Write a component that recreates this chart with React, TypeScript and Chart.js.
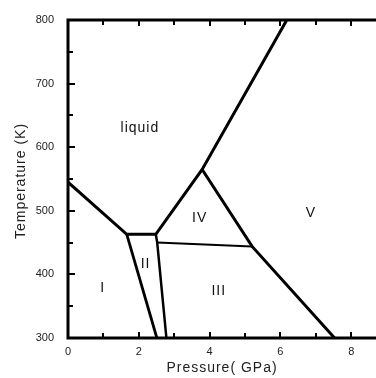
import React, { useEffect, useRef } from "react";
import { Chart, registerables } from "chart.js";

Chart.register(...registerables);

// Phase boundaries (pressure GPa, temperature K)
const liquidBoundary = [
  { x: 0, y: 545 },
  { x: 1.66, y: 463 },
  { x: 2.48, y: 463 },
  { x: 3.79, y: 565 },
  { x: 6.18, y: 800 },
];
const boundaryI_II = [
  { x: 1.66, y: 463 },
  { x: 2.51, y: 300 },
];
const boundaryII_III = [
  { x: 2.48, y: 463 },
  { x: 2.52, y: 450 },
  { x: 2.78, y: 300 },
];
const boundaryIII_IV = [
  { x: 2.52, y: 450 },
  { x: 5.2, y: 444 },
];
const boundaryV = [
  { x: 3.79, y: 565 },
  { x: 5.2, y: 444 },
  { x: 7.53, y: 300 },
];

const regionNames = ["liquid", "IV", "V", "II", "I", "III"];
const regionX = [2.03, 3.72, 6.86, 2.19, 0.98, 4.26];
const regionY = [630, 489, 497, 416, 379, 374];

const xTicks = [0, 2, 4, 6, 8];
const xMinorTicks = [1, 3, 5, 7];
const yTicks = [300, 400, 500, 600, 700, 800];
const yMinorTicks = [350, 450, 550, 650, 750];

const xTitle = "Pressure( GPa)";
const yTitle = "Temperature (K)";

const FONT = "'Liberation Sans', Arial, sans-serif";

const axesPlugin = {
  id: "phaseAxes",
  afterDatasetsDraw(chart: any) {
    const { ctx, chartArea, scales } = chart;
    const { left, right, top, bottom } = chartArea;
    ctx.save();
    ctx.strokeStyle = "#000";
    ctx.lineCap = "butt";
    // ticks
    ctx.lineWidth = 2;
    const xs = scales.x;
    const ys = scales.y;
    const drawX = (v: number, len: number) => {
      const px = Math.round(xs.getPixelForValue(v));
      ctx.beginPath();
      ctx.moveTo(px, bottom);
      ctx.lineTo(px, bottom - len);
      ctx.moveTo(px, top);
      ctx.lineTo(px, top + len);
      ctx.stroke();
    };
    xTicks.forEach((v) => drawX(v, 6));
    xMinorTicks.forEach((v) => drawX(v, 5));
    const drawY = (v: number, len: number) => {
      const py = Math.round(ys.getPixelForValue(v));
      ctx.beginPath();
      ctx.moveTo(left, py);
      ctx.lineTo(left + len, py);
      ctx.stroke();
    };
    yTicks.forEach((v) => drawY(v, 7));
    yMinorTicks.forEach((v) => drawY(v, 5));
    // axis lines
    ctx.lineWidth = 3;
    ctx.beginPath();
    ctx.moveTo(left, top);
    ctx.lineTo(left, bottom);
    ctx.moveTo(left - 1.5, top);
    ctx.lineTo(right, top);
    ctx.moveTo(left - 1.5, bottom);
    ctx.lineTo(right, bottom);
    ctx.stroke();
    // region labels
    ctx.fillStyle = "#111";
    ctx.font = `14px ${FONT}`;
    (ctx as any).letterSpacing = "1px";
    ctx.textAlign = "center";
    ctx.textBaseline = "middle";
    regionNames.forEach((n, i) => {
      ctx.fillText(n, xs.getPixelForValue(regionX[i]), ys.getPixelForValue(regionY[i]));
    });
    // axis titles
    ctx.fillStyle = "#222";
    ctx.fillText(xTitle, (left + right) / 2, 368);
    ctx.translate(21, (top + bottom) / 2 + 2);
    ctx.rotate(-Math.PI / 2);
    ctx.fillText(yTitle, 0, 0);
    ctx.restore();
  },
};

const lineDs = (data: any[], width: number) => ({
  data,
  showLine: true,
  borderColor: "#000",
  borderWidth: width,
  pointRadius: 0,
  fill: false,
  tension: 0,
  borderJoinStyle: "miter" as const,
});

export default function App() {
  const ref = useRef<HTMLCanvasElement | null>(null);
  useEffect(() => {
    if (!ref.current) return;
    const chart = new Chart(ref.current, {
      type: "scatter",
      data: {
        datasets: [
          lineDs(liquidBoundary, 3),
          lineDs(boundaryI_II, 2.8),
          lineDs(boundaryII_III, 2.5),
          lineDs(boundaryIII_IV, 2),
          lineDs(boundaryV, 3),
        ],
      },
      options: {
        animation: false,
        responsive: false,
        layout: { padding: { top: 20, right: 0, left: 0, bottom: 0 } },
        plugins: { legend: { display: false }, tooltip: { enabled: false } },
        scales: {
          x: {
            type: "linear",
            min: 0,
            max: 8.7,
            grid: { display: false },
            border: { display: false },
            afterFit: (s: any) => {
              s.height = 40;
            },
            afterBuildTicks: (s: any) => {
              s.ticks = xTicks.map((v) => ({ value: v }));
            },
            ticks: {
              color: "#222",
              font: { family: FONT, size: 11 },
              padding: -1,
              maxRotation: 0,
            },
            title: { display: false },
          },
          y: {
            type: "linear",
            min: 300,
            max: 800,
            grid: { display: false },
            border: { display: false },
            afterFit: (s: any) => {
              s.width = 68;
            },
            afterBuildTicks: (s: any) => {
              s.ticks = yTicks.map((v) => ({ value: v }));
            },
            ticks: {
              color: "#222",
              font: { family: FONT, size: 11 },
              padding: 6,
            },
            title: { display: false },
          },
        },
      },
      plugins: [axesPlugin],
    });
    return () => chart.destroy();
  }, []);
  return (
    <div style={{ position: "absolute", left: 0, top: 0, width: 376, height: 378 }}>
      <canvas ref={ref} width={376} height={378} />
    </div>
  );
}
